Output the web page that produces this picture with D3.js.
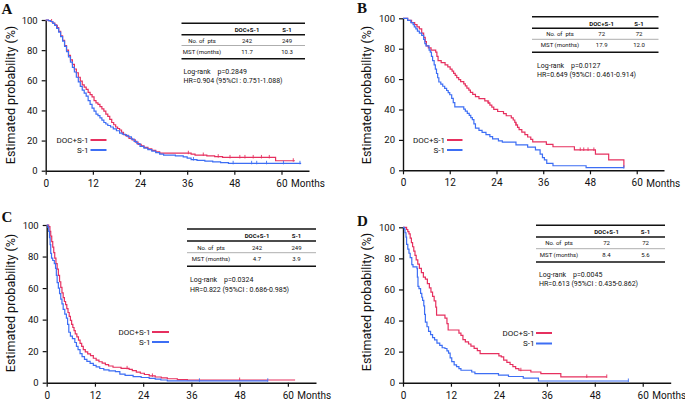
<!DOCTYPE html>
<html><head><meta charset="utf-8">
<script src="https://cdn.jsdelivr.net/npm/d3@7"></script>
<style>body{margin:0;background:#fff}svg{display:block}text{fill:#111}</style>
</head><body><svg id="c" width="685" height="400"></svg>
<script>
// ---------- data ----------
const monthTicks = [0, 12, 24, 36, 48, 60];
const probTicks = [0, 20, 40, 60, 80, 100];
const groups = ["DOC+S-1", "S-1"];
const panelLetters = ["A", "B", "C", "D"];
const rowLabels = ["No. of  pts", "MST (months)"];

// Panel A (months, % surviving)
const aDoc = [[0,100],[0.7,99.6],[1.2,99],[1.8,98],[2.3,96.8],[2.8,95],[3.3,92.5],[3.8,89.5],[4.3,86.5],[4.8,83],[5.3,80],[5.8,76.5],[6.3,73.5],[6.8,70.5],[7.3,67.5],[7.8,65],[8.3,62],[8.8,59.5],[9.3,57],[9.8,55.5],[10.3,54],[10.8,52],[11.3,50.5],[11.8,49],[12.3,46.5],[12.8,45],[13.3,44],[13.8,42.5],[14.3,41],[14.8,39.5],[15.3,37.5],[15.8,36],[16.3,34],[16.8,32],[17.3,30.5],[17.8,29],[18.3,28],[18.8,27],[19.3,25.5],[19.8,24],[20.5,23],[21.2,21.5],[22,20.5],[22.8,19],[23.5,17.5],[24.3,16.5],[25,15.5],[26,14.5],[27,13.5],[28,12.5],[29,11.6],[37,11],[38,10.4],[41,9.8],[43,9.3],[45,8.8],[58.5,6.6],[63.4,6.6]];
const aS1 = [[0,100],[0.7,99.6],[1.2,99],[1.8,97.8],[2.3,96.5],[2.8,94.5],[3.3,92],[3.8,89],[4.3,86],[4.8,82.5],[5.3,79],[5.8,75.5],[6.3,72],[6.8,68.5],[7.3,65.5],[7.8,62],[8.3,59],[8.8,56],[9.3,53.5],[9.8,51.5],[10.3,49.5],[10.8,46.5],[11.3,44],[11.8,41.5],[12.3,39.5],[12.8,37.5],[13.3,36.5],[13.8,35],[14.3,33.5],[14.8,32],[15.3,31],[15.8,30],[16.5,29],[17.2,27.8],[18,26.5],[18.8,25],[19.5,24.2],[20.3,23.5],[21,22.5],[21.8,21],[22.5,19.5],[23.2,18],[24,16.2],[25,15],[26,14],[27,13],[28,12],[29,11],[30,10.4],[33,9.8],[35,9.2],[36,8.3],[37,7.4],[38.5,6.9],[40.5,6.3],[42.5,5.8],[44.5,5.3],[46.5,4.9],[65,4.9]];
const aDocCensor = [1.5, 3, 36.3, 40.1, 43.9, 46.9, 49.4, 50.7, 52.8, 54.9, 56.9, 63];
const aS1Censor = [37.6, 47.7, 52.4, 53.7, 56.2, 60.5, 64.7];
const aPts = ["242", "249"];
const aMst = ["11.7", "10.3"];
const aStats = ["Log-rank    p=0.2849", "HR=0.904 (95%CI : 0.751-1.088)"];

// Panel B
const bDoc = [[0,100],[1.2,98.6],[2.2,97.2],[3,95.8],[3.6,94.4],[4.2,93],[4.8,90.3],[5.3,87.5],[5.7,84.7],[6,81.9],[6.5,80.5],[7.2,79.1],[8.4,77.7],[8.7,75],[9,72.2],[9.8,70.8],[10.8,69.4],[11.5,68],[12.1,66.6],[12.6,65.2],[13,63.8],[13.4,62.4],[13.8,61],[14.3,59.7],[14.8,58.3],[15.6,56.9],[16,55.5],[16.4,54.1],[16.9,52.7],[17.3,51.3],[17.9,49.9],[18.6,48.5],[19.5,47.1],[21,45.7],[21.8,44.3],[22.3,42.9],[22.8,41.5],[23.3,40.1],[24.3,38.7],[25.8,37.3],[26.5,35.9],[27.8,34.5],[28.3,33.1],[28.7,31.5],[29,29.9],[29.4,28.3],[29.8,26.7],[30.5,25.1],[31.3,23.5],[32,21.9],[32.8,20.3],[33.3,18.7],[36.8,17.1],[38.5,15.5],[44,13.4],[49.4,10.7],[52.8,6.8],[56.7,1.7]];
const bS1 = [[0,100],[1.2,98.6],[2,97.2],[2.6,95.8],[2.9,94.4],[3.3,93],[3.7,91.6],[4.2,90.2],[4.8,88.8],[5.3,86.1],[5.6,83.3],[5.9,81.9],[6.7,79.1],[7,77.7],[7.3,74.9],[7.6,72.1],[8,69.3],[8.3,66.5],[8.6,63.7],[8.9,60.9],[9.2,58.1],[9.7,56.7],[10.2,55.3],[10.7,53.9],[11.2,52.5],[11.6,51.1],[12,49.7],[12.5,47.3],[12.9,44.5],[13.3,41.7],[15.6,40.3],[16,38.9],[16.5,37.5],[17,36.1],[17.4,34.7],[17.8,33.3],[18.2,30.5],[18.6,27.7],[19.5,26.3],[20.3,24.9],[21.3,23.5],[22.3,22.1],[23,20.7],[24.5,19.3],[25.5,18.5],[29,16.7],[32,15.3],[34,13.4],[35.2,10.6],[35.8,8.4],[36.3,6.8],[36.9,4.6],[38.5,3],[47,1.7],[56.7,1.7]];
const bDocCensor = [22, 29, 45.5, 46.4, 47.5, 49];
const bS1Censor = [56.7];
const bPts = ["72", "72"];
const bMst = ["17.9", "12.0"];
const bStats = ["Log-rank    p=0.0127", "HR=0.649 (95%CI : 0.461-0.914)"];

// Panel C
const cDoc = [[0,100],[0.5,99],[0.8,96],[1,93],[1.25,89.5],[1.5,86],[1.75,82.5],[2,79],[2.3,75.5],[2.6,72],[2.9,68],[3.2,64],[3.5,60.5],[3.8,57],[4.1,54],[4.4,51.5],[4.7,49.5],[5,47],[5.3,44.5],[5.6,42],[5.9,39.5],[6.2,37],[6.5,35],[6.8,33],[7.1,31],[7.5,29],[7.9,27],[8.3,25],[8.7,23],[9.1,21],[9.6,19.5],[10.2,18.3],[10.9,17.2],[11.6,15.5],[12.3,14.3],[13,13.3],[13.8,12.4],[14.6,11.5],[15.4,10.6],[16.5,9.8],[18.5,9.1],[20.5,8.5],[21.3,7.6],[22.3,6.7],[23.3,6],[24.3,5.2],[25.5,4.3],[27,3.6],[28.5,3],[30,2.5],[32.5,2],[35,1.7],[61.8,1.7]];
const cS1 = [[0,100],[0.3,98.5],[0.5,96],[0.7,92],[0.85,87.5],[1,82],[1.2,79],[1.5,77.5],[1.9,75.5],[2.2,72.5],[2.4,68],[2.6,63.5],[2.9,60],[3.2,56.5],[3.5,53],[3.8,50],[4.1,46.5],[4.5,43.5],[4.9,41],[5.2,37],[5.5,32],[5.9,29.5],[6.4,28],[7,25.5],[7.4,23],[7.8,21],[8.3,18.5],[8.8,16.5],[9.4,14.8],[10,13.5],[10.8,12.3],[11.6,11],[12.3,10],[13.2,9],[14.2,8.1],[15.5,7.5],[17.1,7],[18.2,5.5],[19.5,4.6],[21.5,3.9],[23.5,3.3],[25.5,2.8],[27,2.3],[28.4,1.7],[30,1.2],[55,1.2]];
const cDocCensor = [20, 26.3, 48];
const cS1Censor = [38, 55];
const cPts = ["242", "249"];
const cMst = ["4.7", "3.9"];
const cStats = ["Log-rank    p=0.0324", "HR=0.822 (95%CI : 0.686-0.985)"];

// Panel D
const dDoc = [[0,100],[0.9,98.6],[1.2,97.2],[1.5,95.8],[1.8,93],[2.1,90.2],[2.4,87.5],[2.7,84.7],[3,81.9],[3.3,79.1],[3.7,76.3],[4.1,73.6],[4.6,70.8],[5.1,68],[5.6,66.6],[6.1,63.8],[6.6,61],[7,58.3],[7.4,55.5],[7.8,52.7],[8.2,48.6],[8.4,43.5],[10.5,41.6],[11,38],[11.3,33.9],[14,31.9],[14.5,30.5],[15,27.7],[15.6,26.3],[16.4,24.9],[17,23.5],[17.8,22.1],[18.6,20.7],[19.3,18.7],[24,17.3],[24.6,16.6],[25.2,14.5],[26,13.1],[26.8,11.7],[27.5,10.3],[28.2,9],[29,8],[32,6.9],[34.5,5.8],[39.5,3.7],[51,3.7]];
const dS1 = [[0,100],[0.3,99],[0.5,96.5],[0.75,93.7],[0.9,89],[1.2,86],[1.5,83.3],[1.8,80.5],[2.2,76],[2.5,74.5],[3.5,73.4],[3.6,68],[3.75,62],[4,60.5],[4.4,57.5],[4.7,55],[4.9,53],[5.2,49.5],[5.4,44],[5.6,39],[6,36],[6.4,33],[6.9,31],[7.4,29],[7.9,27.5],[8.5,25.5],[9.2,24],[9.8,22.5],[10.5,22],[11,20.5],[11.4,19],[11.8,16],[12.2,13.5],[12.8,11.5],[13.4,10.3],[14,9],[14.5,8],[17.2,6.9],[18,5.8],[23.9,4.9],[26.4,4],[30.1,2.9],[33.9,1.1],[56.4,1.1]];
const dDocCensor = [29.5, 46, 51];
const dS1Censor = [56.4];
const dPts = ["72", "72"];
const dMst = ["8.4", "5.6"];
const dStats = ["Log-rank    p=0.0045", "HR=0.613 (95%CI : 0.435-0.862)"];

// ---------- layout ----------
const colors = ["#e6305f", "#3d6ef4"];
const sans = "Roboto, 'Liberation Sans', sans-serif";
const panels = [
  {letter: panelLetters[0], series: [aDoc, aS1], censor: [aDocCensor, aS1Censor], pts: aPts, mst: aMst, stats: aStats,
   x0: 45.7, x67: 309, yTop: 20, yBot: 170.7, lx: 1.5, ly: 13.5, tx: 14.5, ty: 95,
   tab: {x1: 181.5, x2: 305, top: 23.3, hl: 34.8, ml: 45.5, bot: 58.8, hy: 29.5, r1: 40.2, r2: 51.5, c: [202, 247, 287]},
   st: {x: 183.5, y1: 72, y2: 80.5}, lg: {te: 88.5, l1: 90.5, l2: 106.5, y: [140, 150]}},
  {letter: panelLetters[1], series: [bDoc, bS1], censor: [bDocCensor, bS1Censor], pts: bPts, mst: bMst, stats: bStats,
   x0: 403, x67: 664, yTop: 18.3, yBot: 170.3, lx: 357, ly: 13.3, tx: 370.5, ty: 95,
   tab: {x1: 532, x2: 658.5, top: 16.7, hl: 28.3, ml: 39.3, bot: 52.3, hy: 23, r1: 33.8, r2: 44.8, c: [560, 601.7, 639]},
   st: {x: 537, y1: 66, y2: 74.5}, lg: {te: 445, l1: 447, l2: 462.5, y: [140, 150]}},
  {letter: panelLetters[2], series: [cDoc, cS1], censor: [cDocCensor, cS1Censor], pts: cPts, mst: cMst, stats: cStats,
   x0: 46.7, x67: 316, yTop: 225, yBot: 382.7, lx: 1.5, ly: 221.7, tx: 14.5, ty: 303,
   tab: {x1: 187, x2: 316, top: 229, hl: 241, ml: 252.7, bot: 266.3, hy: 235.3, r1: 247, r2: 258.7, c: [211, 257, 296.5]},
   st: {x: 190, y1: 280.3, y2: 289.5}, lg: {te: 150.5, l1: 152, l2: 169, y: [332, 342]}},
  {letter: panelLetters[3], series: [dDoc, dS1], censor: [dDocCensor, dS1Censor], pts: dPts, mst: dMst, stats: dStats,
   x0: 403, x67: 670.7, yTop: 227.3, yBot: 382.7, lx: 357, ly: 226, tx: 370.5, ty: 302,
   tab: {x1: 536, x2: 665, top: 225.3, hl: 237, ml: 248.7, bot: 262, hy: 231.5, r1: 242.8, r2: 254.3, c: [559, 606.5, 645.5]},
   st: {x: 539, y1: 275, y2: 284}, lg: {te: 534.5, l1: 536, l2: 552, y: [333, 343.5]}}
];

const svg = d3.select("#c");
svg.append("rect").attr("width", 685).attr("height", 400).attr("fill", "#fff");

function valueAt(series, t) {
  let v = series[0][1];
  for (const p of series) { if (p[0] <= t) v = p[1]; else break; }
  return v;
}

panels.forEach(p => {
  const g = svg.append("g");
  const x = d3.scaleLinear().domain([0, 67]).range([p.x0, p.x67]);
  const y = d3.scaleLinear().domain([0, 100]).range([p.yBot, p.yTop]);

  // axes
  const xAxis = d3.axisBottom(x).tickValues(monthTicks).tickSize(4).tickSizeOuter(0).tickPadding(5);
  const gx = g.append("g").attr("transform", `translate(0,${p.yBot})`).call(xAxis);
  gx.select(".domain").attr("stroke", "#111").attr("stroke-width", 1.4);
  gx.selectAll(".tick line").attr("stroke", "#111").attr("stroke-width", 1.2);
  gx.selectAll(".tick text").style("font-size", "10px").style("font-family", sans).style("fill", "#111");
  g.append("text").attr("x", x(60) + 9.5).attr("y", p.yBot + 16.5)
    .style("font-size", "10px").style("font-family", sans).text("Months");

  const yAxis = d3.axisLeft(y).tickValues(probTicks).tickSize(4).tickSizeOuter(0).tickPadding(4);
  const gy = g.append("g").attr("transform", `translate(${p.x0},0)`).call(yAxis);
  gy.select(".domain").attr("stroke", "#111").attr("stroke-width", 1.4);
  gy.selectAll(".tick line").attr("stroke", "#111").attr("stroke-width", 1.2);
  gy.selectAll(".tick text").style("font-size", "9.5px").style("font-family", sans).style("fill", "#111");

  g.append("text").attr("transform", `translate(${p.tx},${p.ty}) rotate(-90)`)
    .attr("text-anchor", "middle").style("font-size", "12.5px").style("font-family", sans)
    .text("Estimated probability (%)");

  g.append("text").attr("x", p.lx).attr("y", p.ly)
    .style("font-family", "'Liberation Serif', 'DejaVu Serif', serif")
    .style("font-weight", "bold").style("font-size", "15px").text(p.letter);

  // curves
  const line = d3.line().x(d => x(d[0])).y(d => y(d[1])).curve(d3.curveStepAfter);
  p.series.forEach((s, i) => {
    g.append("path").datum(s).attr("d", line).attr("fill", "none")
      .attr("stroke", colors[i]).attr("stroke-width", 1.2);
    g.selectAll(null).data(p.censor[i]).enter().append("line")
      .attr("x1", d => x(d)).attr("x2", d => x(d))
      .attr("y1", d => y(valueAt(s, d)) - 2.5).attr("y2", d => y(valueAt(s, d)) + 1)
      .attr("stroke", colors[i]).attr("stroke-width", 0.9);
  });

  // legend
  groups.forEach((name, i) => {
    g.append("text").attr("x", p.lg.te).attr("y", p.lg.y[i]).attr("text-anchor", "end")
      .attr("dominant-baseline", "central").style("font-size", "8px").style("font-family", sans).text(name);
    g.append("line").attr("x1", p.lg.l1).attr("x2", p.lg.l2).attr("y1", p.lg.y[i]).attr("y2", p.lg.y[i])
      .attr("stroke", colors[i]).attr("stroke-width", 2);
  });

  // table
  const t = p.tab;
  [[t.top, 1.4, "#111"], [t.hl, 1.4, "#111"], [t.ml, 0.8, "#999"], [t.bot, 1.6, "#111"]].forEach(([yy, w, c]) => {
    g.append("line").attr("x1", t.x1).attr("x2", t.x2).attr("y1", yy).attr("y2", yy)
      .attr("stroke", c).attr("stroke-width", w);
  });
  groups.forEach((name, i) => {
    g.append("text").attr("x", t.c[i + 1]).attr("y", t.hy).attr("text-anchor", "middle")
      .attr("dominant-baseline", "central").style("font-size", "6px").style("font-family", sans)
      .style("font-weight", "bold").text(name);
  });
  const rows = [[rowLabels[0], ...p.pts], [rowLabels[1], ...p.mst]];
  rows.forEach((r, ri) => {
    r.forEach((v, ci) => {
      g.append("text").attr("x", t.c[ci]).attr("y", ri === 0 ? t.r1 : t.r2).attr("text-anchor", "middle")
        .attr("dominant-baseline", "central").style("font-size", "6px").style("font-family", sans)
        .style("white-space", "pre").text(v);
    });
  });
  p.stats.forEach((s, i) => {
    g.append("text").attr("x", p.st.x).attr("y", i === 0 ? p.st.y1 : p.st.y2).attr("dominant-baseline", "central")
      .style("font-size", "7px").style("font-family", sans).style("white-space", "pre").text(s);
  });
});
</script></body></html>
